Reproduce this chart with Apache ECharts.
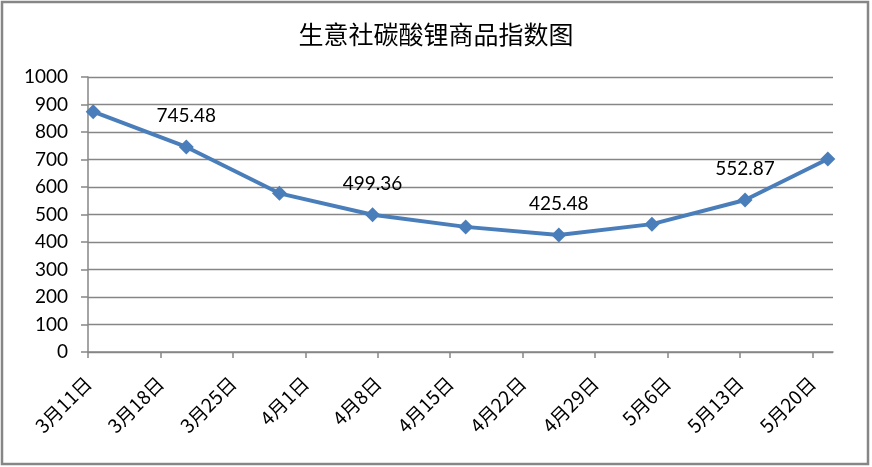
<!DOCTYPE html>
<html>
<head>
<meta charset="utf-8">
<script src="https://cdn.jsdelivr.net/npm/echarts@6/dist/echarts.min.js"></script>
<style>
html,body{margin:0;padding:0;background:#fff;}
#c{width:872px;height:467px;}
</style>
</head>
<body>
<div id="c"></div>
<script>
var title = '生意社碳酸锂商品指数图';
var startDate = '2013-03-11';
var axisDays = 72;
var tickLabels = ['3月11日','3月18日','3月25日','4月1日','4月8日','4月15日','4月22日','4月29日','5月6日','5月13日','5月20日'];
var pointDates = ['2013-03-11','2013-03-20','2013-03-29','2013-04-07','2013-04-16','2013-04-25','2013-05-04','2013-05-13','2013-05-21'];
var values = [874, 745.48, 577, 499.36, 455, 425.48, 465, 552.87, 702];
var labeled = [false, true, false, true, false, true, false, true, false];

var t0 = Date.parse(startDate + 'T00:00:00Z');
var data = pointDates.map(function (d, i) {
  var day = (Date.parse(d + 'T00:00:00Z') - t0) / 86400000 + 0.5;
  return { value: [day, values[i]], label: { show: labeled[i] } };
});

var chart = echarts.init(document.getElementById('c'));
chart.setOption({
  animation: false,
  backgroundColor: '#fff',
  title: {
    text: title, left: 'center', top: 17,
    textStyle: { fontFamily: 'Noto Sans CJK SC', fontSize: 25, fontWeight: 'normal', color: '#000' }
  },
  graphic: [{
    type: 'rect', shape: { x: 2, y: 2, width: 866, height: 462 },
    style: { fill: 'none', stroke: '#868686', lineWidth: 2.5 }, silent: true
  }],
  grid: { left: 88, right: 39, top: 77, bottom: 115 },
  xAxis: {
    type: 'value', min: 0, max: axisDays, interval: 7,
    axisLine: { show: true, lineStyle: { color: '#868686', width: 1.5 } },
    axisTick: { show: true, length: 6, lineStyle: { color: '#868686', width: 1.5 } },
    splitLine: { show: false },
    axisLabel: {
      rotate: 45, margin: 28, color: '#000', fontSize: 19, fontFamily: 'Noto Sans CJK SC',
      showMaxLabel: false,
      formatter: function (v) { var k = Math.round(v / 7); return (Math.abs(v - k * 7) < 1e-6 && tickLabels[k]) ? tickLabels[k] : ''; }
    }
  },
  yAxis: {
    type: 'value', min: 0, max: 1000, interval: 100,
    axisLine: { show: true, lineStyle: { color: '#868686', width: 1.5 } },
    axisTick: { show: true, length: 7, lineStyle: { color: '#868686', width: 1.5 } },
    splitLine: { show: true, lineStyle: { color: '#868686', width: 1.3 } },
    axisLabel: { color: '#000', fontSize: 19, fontFamily: 'Lato', margin: 20,
      formatter: function (v) { return String(v); } }
  },
  series: [{
    type: 'line', data: data,
    symbol: 'diamond', symbolSize: 15,
    lineStyle: { color: '#4A7EBB', width: 4 },
    itemStyle: { color: '#4A7EBB' },
    label: { position: 'top', distance: 14, color: '#000', fontSize: 19, fontFamily: 'Lato',
      formatter: function (p) { return p.value[1].toFixed(2); } }
  }]
});
</script>
</body>
</html>
